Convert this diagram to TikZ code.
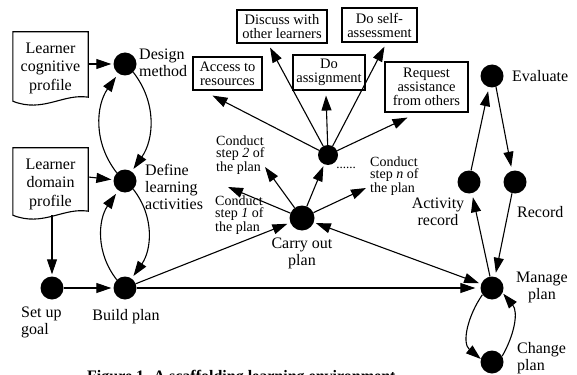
\documentclass[tikz,border=0pt]{standalone}
\usepackage{fontspec}
\setmainfont{Liberation Serif}
\usetikzlibrary{arrows.meta,calc}
\begin{document}
\begin{tikzpicture}[x=1pt,y=-1pt,
 dot/.style={circle,fill=black,minimum size=23pt,inner sep=0pt},
 sdot/.style={circle,fill=black,minimum size=20pt,inner sep=0pt},
 arr/.style={-{Triangle[length=15pt,width=10pt]},line width=1.1pt,shorten >=2pt},
 darr/.style={{Triangle[length=15pt,width=10pt]}-{Triangle[length=15pt,width=10pt]},line width=1.1pt,shorten >=2pt,shorten <=2pt},
 lbl/.style={font=\fontsize{16}{17}\selectfont,inner sep=0pt,align=left},
 clbl/.style={font=\fontsize{16}{17}\selectfont,inner sep=0pt,align=center},
 slbl/.style={font=\fontsize{14}{12.5}\selectfont,inner sep=0pt,align=left},
 box/.style={draw,line width=1.1pt,font=\fontsize{14.5}{14}\selectfont,align=center,inner sep=0pt},
 docshape/.style={inner sep=0pt,minimum width=75pt},
 ptext/.style={font=\fontsize{16}{18.5}\selectfont,inner sep=0pt,align=center},
]
\useasboundingbox[fill=white] (0,0) rectangle (577,374);

% profile documents
\node[docshape,minimum height=65pt] (cog) at (50.5,64.5) {};
\draw[line width=1.1pt] (cog.south west) -- (cog.north west) -- (cog.north east) -- (cog.south east)
  .. controls ($(cog.south east)+(-25,-4)$) and ($(cog.south west)+(30,16)$) .. ($(cog.south west)+(0,4)$) -- cycle;
\node[ptext] (cogt) at (50.5,68) {Learner\\cognitive\\profile};

\node[docshape,minimum height=63pt] (dom) at (50.5,179.5) {};
\draw[line width=1.1pt] (dom.south west) -- (dom.north west) -- (dom.north east) -- (dom.south east)
  .. controls ($(dom.south east)+(-25,-4)$) and ($(dom.south west)+(30,16)$) .. ($(dom.south west)+(0,4)$) -- cycle;
\node[ptext] (domt) at (50.5,184) {Learner\\domain\\profile};

% dots
\node[dot] (des) at (125,64) {};
\node[dot] (def) at (125,181) {};
\node[dot] (sg) at (52,288) {};
\node[dot] (bp) at (125,288) {};
\node[dot,minimum size=25pt] (co) at (302,218) {};
\node[sdot] (mid) at (328,155) {};
\node[dot] (mp) at (492,288) {};
\node[dot] (cp) at (492,362) {};
\node[dot] (ev) at (492,76) {};
\node[dot] (ar) at (469,182) {};
\node[dot] (rec) at (515,182) {};

% labels of dots
\node[lbl,anchor=west] (ldes) at (139,63) {Design\\method};
\node[lbl,anchor=west] (ldef) at (145,186.5) {Define\\learning\\activities};
\node[lbl,anchor=west] (lsg) at (21,322) {Set up\\goal};
\node[lbl] (lbp) at (126,317) {Build plan};
\node[clbl] (lco) at (302,253.5) {Carry out\\plan};
\node[clbl] (lmp) at (542,287.5) {Manage\\plan};
\node[lbl,anchor=west] (lcp) at (517,358) {Change\\plan};
\node[lbl,anchor=west] (lev) at (512,76) {Evaluate};
\node[clbl] (lar) at (438,212) {Activity\\record};
\node[lbl,anchor=west] (lrec) at (517,212) {Record};

% activity boxes
\node[box,minimum width=69pt,minimum height=33pt] (acc) at (227.5,73.5) {Access to\\resources};
\node[box,minimum width=90pt,minimum height=33pt] (disc) at (282,26.5) {Discuss with\\other learners};
\node[box,minimum width=72pt,minimum height=35pt] (asg) at (329,72.5) {Do\\assignment};
\node[box,minimum width=75pt,minimum height=34pt] (self) at (379.5,25) {Do self-\\assessment};
\node[box,minimum width=83pt,minimum height=50pt] (req) at (426.5,87) {Request\\assistance\\from others};

% step labels
\node[slbl,anchor=west] (l1) at (215,215) {Conduct\\step \emph{1} of\\the plan};
\node[slbl,anchor=west] (l2) at (216,155) {Conduct\\step \emph{2} of\\the plan};
\node[slbl,anchor=west] (ln) at (370,176) {Conduct\\step \emph{n} of\\the plan};
\node[font=\fontsize{13}{13}\selectfont,inner sep=0pt] (dts) at (346,168) {......};

% free ends
\coordinate (s1) at (228,187);
\coordinate (s2) at (265,167);
\coordinate (sn) at (366,188);

% connectors: left part
\draw[arr] (cog.east |- des) -- (des);
\draw[arr] (dom.east |- 0,177) -- (def);
\draw[arr] ($(sg |- dom.south)+(0,4)$) -- (sg);
\draw[arr] (sg) -- (bp);
\draw[arr,shorten >=4pt] (def.135) to[out=128,in=-125] (des.235);
\draw[arr,shorten >=3pt] (des.-45) to[out=-52,in=55] (def.55);
\draw[arr,shorten >=4pt] (bp.135) to[out=128,in=-125] (def.235);
\draw[arr,shorten >=3pt] (def.-45) to[out=-52,in=55] (bp.55);

% carry out plan
\draw[arr,shorten >=3pt] (bp) -- (co);
\draw[arr,shorten >=5pt] (bp) -- (mp);
\draw[darr] (co) -- (mp);
\draw[arr,shorten >=0pt] (co) -- (s1);
\draw[arr,shorten >=0pt] (co) -- (s2);
\draw[arr] (co) -- (mid);
\draw[arr,shorten >=0pt] (co) -- (sn);

% mid dot to activities
\draw[arr,shorten >=0pt] (mid) -- ($(acc.south west)+(20,5)$);
\draw[arr,shorten >=0pt] (mid) -- ($(disc.south)+(-12,4)$);
\draw[arr,shorten >=0pt] (mid) -- ($(asg.south)+(-3,5)$);
\draw[arr,shorten >=0pt] (mid) -- ($(self.south)+(5,4)$);
\draw[arr,shorten >=0pt] (mid) -- ($(req.south)+(-19,5)$);

% manage cycle
\draw[arr,shorten >=4pt] (ar.80) -- (ev.255);
\draw[arr,shorten >=4pt] (ev.-70) -- (rec.105);
\draw[arr,shorten >=4pt] (rec.-105) -- (mp.75);
\draw[arr,shorten >=4pt] (mp.100) -- (ar.-75);
\draw[arr,shorten >=0pt] (mp.215) to[out=-125,in=140] (cp.165);
\draw[arr,shorten >=1pt] (cp.30) to[out=60,in=-50] (mp.-25);

% caption (cut off at the bottom, as in the reference)
\node[anchor=north west,inner sep=0pt,font=\bfseries\fontsize{16}{16}\selectfont] (cap) at (87,370) {Figure 1. A scaffolding learning environment};
\end{tikzpicture}
\end{document}
